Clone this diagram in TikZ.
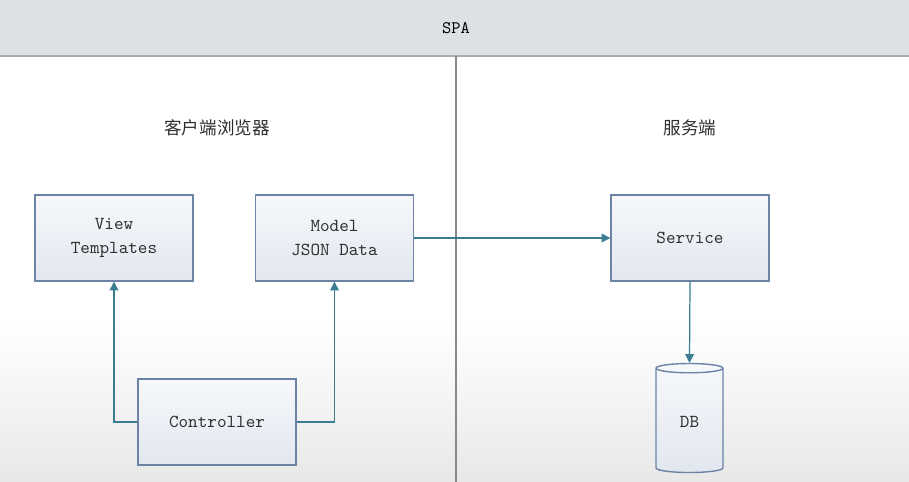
\documentclass[tikz,border=0pt]{standalone}
\usepackage{fontspec}
\newfontfamily\cjk{Noto Sans CJK SC}
\usetikzlibrary{shapes.geometric,arrows.meta}
\definecolor{hdrgray}{HTML}{DDE0E4}
\definecolor{rulegray}{HTML}{A8ABB0}
\definecolor{boxline}{HTML}{6B84A6}
\definecolor{boxtop}{HTML}{F6F8FB}
\definecolor{boxbot}{HTML}{E2E7EF}
\definecolor{flow}{HTML}{3A7D93}
\definecolor{txtgray}{HTML}{303030}
\begin{document}
\begin{tikzpicture}[
    box/.style={draw=boxline, line width=0.8pt, top color=boxtop, bottom color=boxbot,
      minimum width=3.16cm, minimum height=1.72cm, align=center, text=txtgray,
      font=\ttfamily\fontsize{10.4}{13.5}\selectfont},
    db/.style={cylinder, shape border rotate=90, aspect=0.3, draw=boxline, line width=0.8pt,
      top color=boxtop, bottom color=boxbot, minimum width=1.34cm, minimum height=2.18cm,
      text=txtgray, font=\ttfamily\fontsize{10.4}{13.5}\selectfont},
    link/.style={draw=flow, line width=0.7pt, -{Triangle[length=5pt,width=5pt]}},
    title/.style={text=txtgray, font=\cjk\fontsize{10}{12}\selectfont}
  ]
  \useasboundingbox (0,0) rectangle (18.18,9.64);
  % background
  \fill[white] (0,0) rectangle (18.18,8.52);
  \shade[top color=white, bottom color=black!9] (0,0) rectangle (18.18,3.2);
  \fill[hdrgray] (0,8.52) rectangle (18.18,9.64);
  \draw[rulegray, line width=0.8pt] (0,8.52) -- (18.18,8.52);
  \draw[rulegray!80!black, line width=0.6pt] (9.12,0) -- (9.12,8.52);
  \node[text=black, font=\ttfamily\fontsize{10}{12}\selectfont] (spa) at (9.12,9.08) {SPA};

  \node[title] (client) at (4.34,7.08) {客户端浏览器};
  \node[title] (server) at (13.80,7.08) {服务端};

  \node[box] (view) at (2.28,4.88) {View\\Templates};
  \node[box] (model) at (6.69,4.88) {Model\\JSON Data};
  \node[box] (ctrl) at (4.34,1.20) {Controller};
  \node[box] (service) at (13.80,4.88) {Service};
  \node[db] (dbase) at (13.79,1.20) {DB};

  \draw[link] (ctrl.west) -| (view.south);
  \draw[link] (ctrl.east) -| (model.south);
  \draw[link] (model.east) -- (service.west);
  \draw[link] (service.south) -- (dbase.top);
\end{tikzpicture}
\end{document}
